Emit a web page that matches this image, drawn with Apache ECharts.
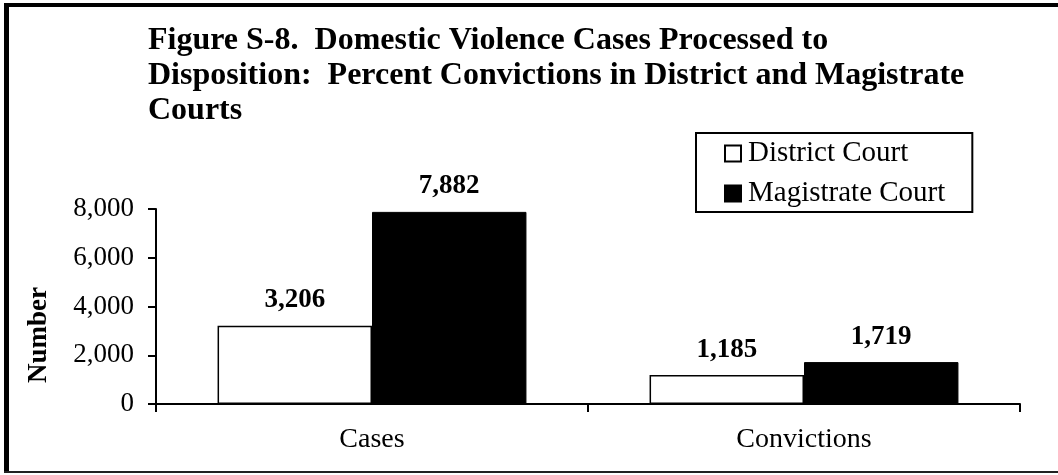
<!DOCTYPE html>
<html>
<head>
<meta charset="utf-8">
<style>
  html, body { margin: 0; padding: 0; background: #fff; }
  #chart { width: 1058px; height: 475px; }
</style>
<script src="https://cdn.jsdelivr.net/npm/echarts@6/dist/echarts.min.js"></script>
</head>
<body>
<div id="chart"></div>
<script>
  const categories = ['Cases', 'Convictions']
  const districtCourt = [3206, 1185]
  const magistrateCourt = [7882, 1719]
  const yTicks = [0, 2000, 4000, 6000, 8000]

  const serif = '"Liberation Serif", "Times New Roman", serif'
  const fmt = (v) => Number(v).toLocaleString('en-US')

  const chart = echarts.init(document.getElementById('chart'))
  chart.setOption({
    animation: false,
    backgroundColor: '#fff',
    title: {
      text: 'Figure S-8.  Domestic Violence Cases Processed to\nDisposition:  Percent Convictions in District and Magistrate\nCourts',
      left: 143,
      top: 18,
      textStyle: {
        fontFamily: serif,
        fontSize: 32,
        fontWeight: 'bold',
        color: '#000',
        lineHeight: 35
      }
    },
    legend: {
      orient: 'vertical',
      left: 696,
      top: 133,
      padding: [6, 27, 4, 28],
      itemGap: 11,
      itemWidth: 16,
      itemHeight: 16,
      borderColor: '#000',
      borderWidth: 2,
      icon: 'rect',
      textStyle: {
        fontFamily: serif,
        fontSize: 29,
        color: '#000',
        lineHeight: 28,
        padding: [0, 0, 0, 2]
      },
      data: ['District Court', 'Magistrate Court']
    },
    grid: {
      left: 156,
      right: 38,
      top: 209,
      bottom: 71,
      containLabel: false
    },
    xAxis: {
      type: 'category',
      data: categories,
      axisLine: { lineStyle: { color: '#000', width: 2 } },
      axisTick: { show: true, length: 8, lineStyle: { color: '#000', width: 2 } },
      axisLabel: {
        fontFamily: serif,
        fontSize: 28,
        color: '#000',
        margin: 22
      }
    },
    yAxis: {
      type: 'value',
      min: yTicks[0],
      max: yTicks[yTicks.length - 1],
      interval: yTicks[1] - yTicks[0],
      splitLine: { show: false },
      axisLine: { show: true, lineStyle: { color: '#000', width: 2 } },
      axisTick: { show: true, length: 8, lineStyle: { color: '#000', width: 2 } },
      axisLabel: {
        fontFamily: serif,
        fontSize: 27,
        color: '#000',
        margin: 22,
        formatter: fmt
      }
    },
    graphic: [
      {
        type: 'text',
        x: 39,
        y: 335,
        rotation: Math.PI / 2,
        style: {
          text: 'Number',
          fontFamily: serif,
          fontSize: 27,
          fontWeight: 'bold',
          fill: '#000',
          align: 'center',
          verticalAlign: 'middle'
        }
      },
      // frame round the figure
      { type: 'rect', shape: { x: 4, y: 3, width: 1054, height: 4 }, style: { fill: '#000' } },
      { type: 'rect', shape: { x: 4, y: 3, width: 5, height: 470 }, style: { fill: '#000' } },
      { type: 'rect', shape: { x: 4, y: 471, width: 1054, height: 2 }, style: { fill: '#222' } }
    ],
    series: [
      {
        name: 'District Court',
        type: 'bar',
        data: districtCourt,
        barGap: '0%',
        barCategoryGap: '28.5%',
        itemStyle: { color: '#fff', borderColor: '#000', borderWidth: 1.5 },
        label: {
          show: true,
          position: 'top',
          distance: 12,
          fontFamily: serif,
          fontSize: 27,
          fontWeight: 'bold',
          color: '#000',
          formatter: (p) => fmt(p.value)
        }
      },
      {
        name: 'Magistrate Court',
        type: 'bar',
        data: magistrateCourt,
        itemStyle: { color: '#000', borderColor: '#000', borderWidth: 1 },
        label: {
          show: true,
          position: 'top',
          distance: 12,
          fontFamily: serif,
          fontSize: 27,
          fontWeight: 'bold',
          color: '#000',
          formatter: (p) => fmt(p.value)
        }
      }
    ]
  })
</script>
</body>
</html>
